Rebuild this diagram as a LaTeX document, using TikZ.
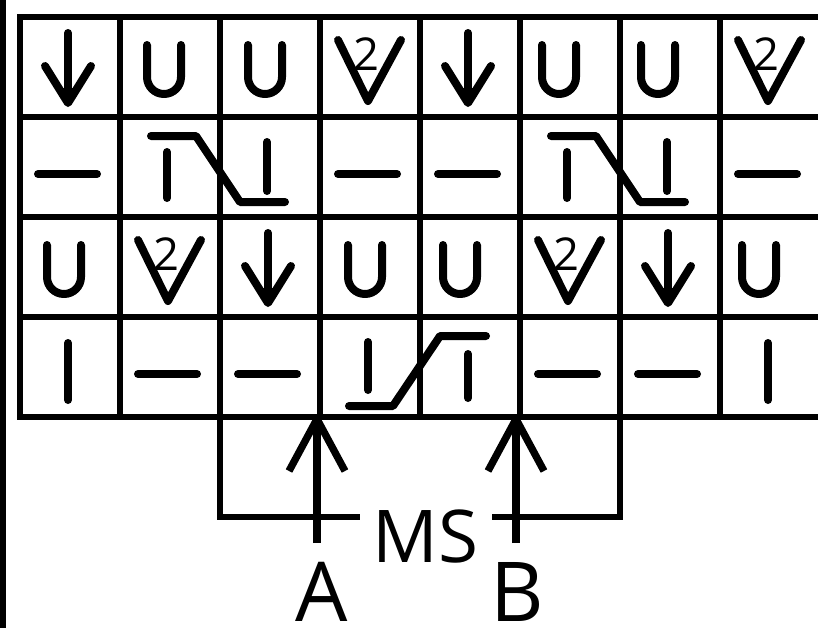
\documentclass[tikz,border=0pt]{standalone}
\usepackage{fontspec}
\setmainfont{Open Sans}
\tikzset{
  gridline/.style={line width=4.5pt, line cap=rect},
  symline/.style={line width=6pt, line cap=round, line join=round},
  bracketline/.style={line width=4.5pt},
  arrowline/.style={line width=5.5pt, line join=round},
  lbl/.style={font=\fontsize{54.6pt}{60pt}\selectfont, inner sep=0pt, anchor=base},
  biglbl/.style={font=\fontsize{62pt}{66pt}\selectfont, inner sep=0pt, anchor=base},
  twolbl/.style={font=\fontsize{34pt}{36pt}\selectfont, inner sep=0pt},
}
\newcommand\SymDown[2]{%
  \begin{scope}[shift={({20+100*(#1)},{17+100*(#2)})}]
    \draw[symline] (48,16) -- (48,84);
    \draw[symline] (25,49) -- (48,86) -- (71,49);
    \fill (41,71) -- (48,86) -- (55,71) -- cycle;
  \end{scope}}
\newcommand\SymU[3]{%
  \begin{scope}[shift={({20+100*(#1)},{17+100*(#2)})}]
    \draw[symline, rounded corners=12.75pt] ({#3-17},28) -- ({#3-17},77) -- ({#3+17},77) -- ({#3+17},28);
  \end{scope}}
\newcommand\SymV[2]{%
  \begin{scope}[shift={({20+100*(#1)},{17+100*(#2)})}]
    \draw[symline] (18,23) -- (48,84) -- (81,23);
    \node[twolbl] (two#1#2) at (46,37) {2};
  \end{scope}}
\newcommand\SymDash[2]{%
  \begin{scope}[shift={({20+100*(#1)},{17+100*(#2)})}]
    \draw[symline] (18,57) -- (77,57);
  \end{scope}}
\newcommand\SymBar[2]{%
  \begin{scope}[shift={({20+100*(#1)},{17+100*(#2)})}]
    \draw[symline] (48,26) -- (48,83);
  \end{scope}}
\newcommand\SymCrossR[2]{% top-left to bottom-right, spans two cells
  \begin{scope}[shift={({20+100*(#1)},{17+100*(#2)})}]
    \draw[symline] (31,19) -- (76,19) -- (120,85) -- (165,85);
    \draw[symline] (47,35) -- (47,81);
    \draw[symline] (147,25) -- (147,74);
  \end{scope}}
\newcommand\SymCrossL[2]{% bottom-left to top-right, spans two cells
  \begin{scope}[shift={({20+100*(#1)},{17+100*(#2)})}]
    \draw[symline] (29,89) -- (73,89) -- (120,19) -- (166,19);
    \draw[symline] (48,25) -- (48,73);
    \draw[symline] (148,37) -- (148,81);
  \end{scope}}
\begin{document}
\begin{tikzpicture}[x=0.75pt,y=-0.75pt]
\useasboundingbox (0,0) rectangle (818,628);
\fill[white] (0,0) rectangle (818,628);
\fill[black] (0,0) rectangle (6,628);
% grid
\foreach \yy in {17,117,217,317,417} \draw[gridline] (20,\yy) -- (826,\yy);
\foreach \xx in {20,120,220,320,420,520,620,720} \draw[gridline] (\xx,17) -- (\xx,417);
% row 0
\SymDown{0}{0}
\SymU{1}{0}{44}
\SymU{2}{0}{45}
\SymV{3}{0}
\SymDown{4}{0}
\SymU{5}{0}{39}
\SymU{6}{0}{38}
\SymV{7}{0}
% row 1
\SymDash{0}{1}
\SymCrossR{1}{1}
\SymDash{3}{1}
\SymDash{4}{1}
\SymCrossR{5}{1}
\SymDash{7}{1}
% row 2
\SymU{0}{2}{44}
\SymV{1}{2}
\SymDown{2}{2}
\SymU{3}{2}{45}
\SymU{4}{2}{40}
\SymV{5}{2}
\SymDown{6}{2}
\SymU{7}{2}{39}
% row 3
\SymBar{0}{3}
\SymDash{1}{3}
\SymDash{2}{3}
\SymCrossL{3}{3}
\SymDash{5}{3}
\SymDash{6}{3}
\SymBar{7}{3}
% bracket and labels
\node[lbl] (ms) at (425.5,562) {MS};
\node[biglbl] (la) at (322,621) {A};
\node[biglbl] (lb) at (517,621) {B};
\coordinate (bl) at (220,417);
\coordinate (br) at (620,417);
\draw[bracketline] (bl) -- (220,517) -- (360,517);
\draw[bracketline] (492,517) -- (620,517) -- (br);
% arrows A and B
\coordinate (Atip) at (317,419);
\coordinate (Abase) at (317,543);
\coordinate (Btip) at (516,419);
\coordinate (Bbase) at (516,543);
\draw[arrowline] (Abase) -- (Atip);
\draw[arrowline] (Atip) ++(-28,52) -- (Atip) -- ++(28,52);
\draw[arrowline] (Bbase) -- (Btip);
\draw[arrowline] (Btip) ++(-28,52) -- (Btip) -- ++(28,52);
\end{tikzpicture}
\end{document}
